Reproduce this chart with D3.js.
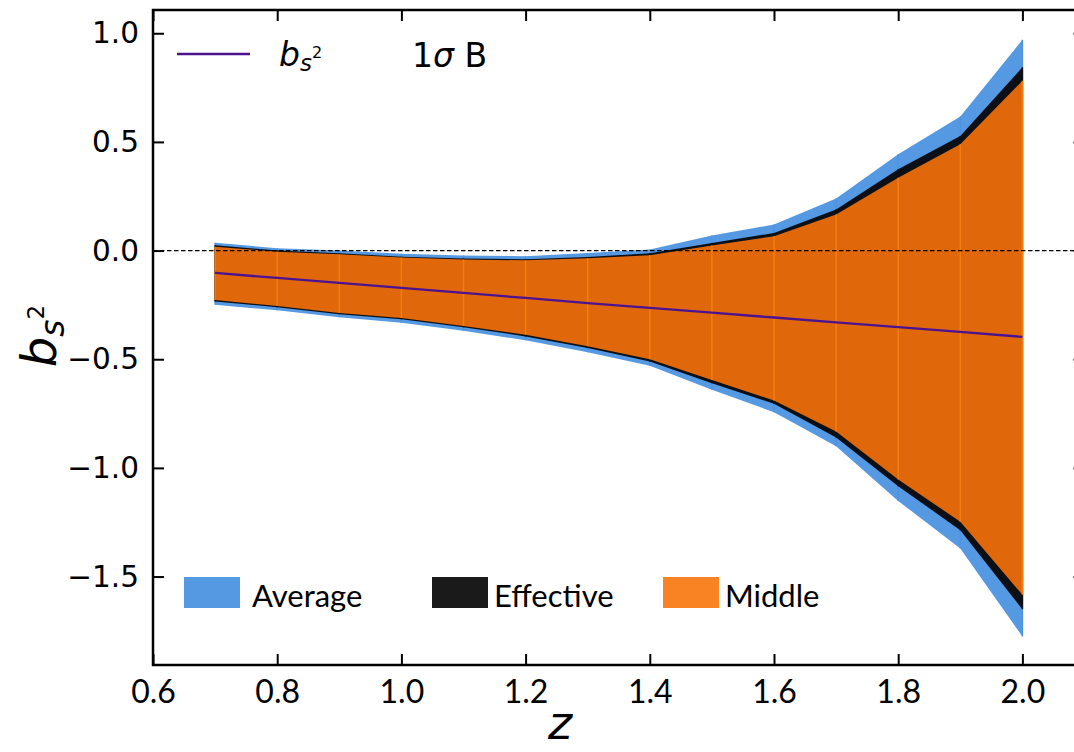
<!DOCTYPE html>
<html>
<head>
<meta charset="utf-8">
<script src="https://cdn.jsdelivr.net/npm/d3@7"></script>
<style>
  body { margin: 0; background: #fff; }
  svg { display: block; }
</style>
</head>
<body>
<svg width="1074" height="752"></svg>
<script>
// redshift bins
var z = [0.7, 0.8, 0.9, 1.0, 1.1, 1.2, 1.3, 1.4, 1.5, 1.6, 1.7, 1.8, 1.9, 2.0];

// b_{s^2} fiducial
var bs2 = [-0.103, -0.126, -0.149, -0.172, -0.195, -0.218, -0.242, -0.264, -0.286, -0.308, -0.330, -0.352, -0.374, -0.397];

// 1 sigma bands
var avgUpper = [0.036, 0.011, 0.0, -0.015, -0.023, -0.026, -0.011, 0.005, 0.069, 0.120, 0.240, 0.443, 0.617, 0.970];
var avgLower = [-0.249, -0.275, -0.307, -0.332, -0.369, -0.413, -0.468, -0.530, -0.640, -0.744, -0.900, -1.152, -1.371, -1.776];
var effUpper = [0.024, 0.0, -0.012, -0.028, -0.036, -0.040, -0.030, -0.012, 0.035, 0.081, 0.189, 0.374, 0.527, 0.843];
var effLower = [-0.234, -0.261, -0.293, -0.316, -0.353, -0.395, -0.448, -0.510, -0.610, -0.705, -0.860, -1.084, -1.287, -1.651];
var midUpper = [0.018, -0.005, -0.017, -0.032, -0.041, -0.045, -0.035, -0.022, 0.023, 0.066, 0.166, 0.335, 0.489, 0.781];
var midLower = [-0.228, -0.255, -0.287, -0.310, -0.347, -0.387, -0.440, -0.500, -0.595, -0.690, -0.833, -1.053, -1.248, -1.584];

var xTicks = [0.6, 0.8, 1.0, 1.2, 1.4, 1.6, 1.8, 2.0];
var yTicks = [-1.5, -1.0, -0.5, 0.0, 0.5, 1.0];

var bandNames = ['Average', 'Effective', 'Middle'];
var bandColors = ['#5599e3', '#1a1a1a', '#f98222'];

var svg = d3.select('svg');
var pL = 153, pR = 1084.5, pT = 10, pB = 665;

var x = d3.scaleLinear().domain([0.6, 2.1]).range([pL, pR]);
var y = d3.scaleLinear().domain([-1.907, 1.107]).range([pB, pT]);

var rows = z.map(function(d, i) {
  return { z: d, b: bs2[i], aU: avgUpper[i], aL: avgLower[i], eU: effUpper[i], eL: effLower[i], mU: midUpper[i], mL: midLower[i] };
});

var band = function(lo, hi, fill, edge) {
  var area = d3.area()
    .x(function(d) { return x(d.z); })
    .y0(function(d) { return y(d[lo]); })
    .y1(function(d) { return y(d[hi]); });
  svg.append('path')
     .datum(rows)
     .attr('d', area)
     .attr('fill', fill);
  svg.append('g').selectAll('line')
     .data(rows)
     .enter().append('line')
       .attr('x1', function(d) { return x(d.z); })
       .attr('x2', function(d) { return x(d.z); })
       .attr('y1', function(d) { return y(d[lo]); })
       .attr('y2', function(d) { return y(d[hi]); })
       .attr('stroke', edge)
       .attr('stroke-width', 1.5);
};

band('aL', 'aU', '#5599e3', '#4e93e0');
band('eL', 'eU', '#0c1016', '#0c1016');
band('mL', 'mU', '#e0680a', '#f57c12');

// fiducial line
svg.append('path')
   .datum(rows)
   .attr('d', d3.line().x(function(d) { return x(d.z); }).y(function(d) { return y(d.b); }))
   .attr('fill', 'none')
   .attr('stroke', '#4b1390')
   .attr('stroke-width', 2.3);

// zero line
svg.append('line')
   .attr('x1', pL).attr('x2', pR)
   .attr('y1', y(0)).attr('y2', y(0))
   .attr('stroke', '#000')
   .attr('stroke-width', 1.2)
   .attr('stroke-dasharray', '4.5,2.5');

// axes, ticks inward on every side
var fmt = d3.format('.1f');
var xAxis = svg.append('g')
   .attr('transform', 'translate(0,' + pB + ')')
   .call(d3.axisBottom(x).tickValues(xTicks).tickSize(-11).tickPadding(15).tickFormat(fmt));
svg.append('g')
   .attr('transform', 'translate(0,' + pT + ')')
   .call(d3.axisTop(x).tickValues(xTicks).tickSize(-11).tickFormat(''));
var yAxis = svg.append('g')
   .attr('transform', 'translate(' + pL + ',0)')
   .call(d3.axisLeft(y).tickValues(yTicks).tickSize(-11).tickPadding(14).tickFormat(fmt));
svg.append('g')
   .attr('transform', 'translate(' + pR + ',0)')
   .call(d3.axisRight(y).tickValues(yTicks).tickSize(-11).tickFormat(''));

svg.selectAll('.domain').remove();
svg.selectAll('.tick line').attr('stroke', '#000').attr('stroke-width', 2);
svg.selectAll('.tick text').attr('fill', '#000');

yAxis.selectAll('text')
   .attr('font-family', 'DejaVu Sans')
   .attr('font-size', 29.5);

xAxis.selectAll('text')
   .attr('font-family', 'Lato')
   .attr('font-size', 32);

svg.append('rect')
   .attr('x', pL).attr('y', pT)
   .attr('width', pR - pL).attr('height', pB - pT)
   .attr('fill', 'none')
   .attr('stroke', '#000')
   .attr('stroke-width', 2.5);

// axis labels
var ylab = svg.append('text')
   .attr('transform', 'translate(56,336) rotate(-90)')
   .attr('text-anchor', 'middle')
   .attr('font-family', 'DejaVu Sans')
   .attr('font-style', 'italic');
ylab.append('tspan').attr('font-size', 48).text('b');
ylab.append('tspan').attr('font-size', 33).attr('dy', 8).text('s');
ylab.append('tspan').attr('font-size', 23).attr('font-style', 'normal').attr('dy', -20).text('2');

svg.append('text')
   .attr('x', 560).attr('y', 739)
   .attr('text-anchor', 'middle')
   .attr('font-family', 'DejaVu Sans')
   .attr('font-style', 'italic')
   .attr('font-size', 46)
   .text('z');

// top legend
svg.append('line')
   .attr('x1', 177).attr('x2', 250)
   .attr('y1', 54).attr('y2', 54)
   .attr('stroke', '#4b1390')
   .attr('stroke-width', 2.3);
var leg = svg.append('text')
   .attr('x', 279).attr('y', 66)
   .attr('font-family', 'DejaVu Sans')
   .attr('font-style', 'italic');
leg.append('tspan').attr('font-size', 33).text('b');
leg.append('tspan').attr('font-size', 23).attr('dy', 5).text('s');
leg.append('tspan').attr('font-size', 16).attr('font-style', 'normal').attr('dy', -13).text('2');
svg.append('text')
   .attr('x', 412).attr('y', 67)
   .attr('font-family', 'DejaVu Sans')
   .attr('font-size', 33)
   .html('1<tspan font-style="italic">σ</tspan> B');

// bottom legend
var legX = [184, 432, 663];
var legGap = [68, 62, 62];
bandNames.forEach(function(name, i) {
  svg.append('rect')
     .attr('x', legX[i]).attr('y', 577)
     .attr('width', 56).attr('height', 31)
     .attr('fill', bandColors[i]);
  svg.append('text')
     .attr('x', legX[i] + legGap[i]).attr('y', 607)
     .attr('font-family', 'Lato')
     .attr('font-size', 31)
     .text(name);
});
</script>
</body>
</html>
